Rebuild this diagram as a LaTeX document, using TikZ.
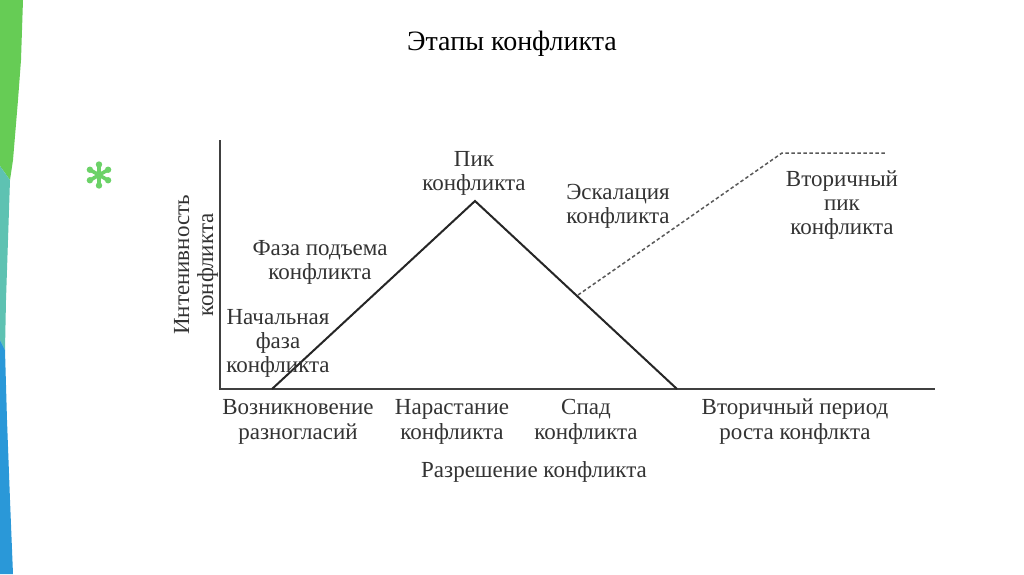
\documentclass[tikz,border=0pt]{standalone}
\usepackage{fontspec}
\setmainfont{Liberation Serif}
\definecolor{stripgreen}{HTML}{66CC55}
\definecolor{stripteal}{HTML}{5EC2B2}
\definecolor{stripblue}{HTML}{2A98D8}
\definecolor{astgreen}{HTML}{6CD268}
\definecolor{txt}{HTML}{333333}
\begin{document}
\begin{tikzpicture}[x=1pt,y=-1pt,
  lbl/.style={text=txt,align=center,inner sep=0pt,font=\fontsize{23}{24}\selectfont},
  blbl/.style={text=txt,align=center,inner sep=0pt,font=\fontsize{23}{25}\selectfont},
  axisline/.style={draw=black!75,line width=1.4pt},
  curve/.style={draw=black!85,line width=2pt},
  dashcurve/.style={draw=black!65,line width=1.5pt,dash pattern=on 3.5pt off 2.5pt}]
\useasboundingbox (0,0) rectangle (1024,574);
\fill[white] (0,0) rectangle (1024,574);
% left strips
\fill[stripgreen] (0,0) -- (23,0) -- (21,60) -- (18,100) -- (13,160) -- (10,180) -- (0,166) -- cycle;
\fill[stripteal] (0,166) -- (10,180) -- (8,240) -- (6,300) -- (5,350) -- (0,340) -- cycle;
\fill[stripblue] (0,340) -- (5,350) -- (7,420) -- (10,500) -- (13,574) -- (0,574) -- cycle;
% asterisk
\foreach \a in {90,150,210,270,330,30}{
  \draw[astgreen,line width=3.6pt,line cap=round] (99,175) -- ++(\a:10);
  \fill[astgreen] (99,175) ++(\a:10.5) circle[radius=3.2pt];
}
% title
\node[inner sep=0pt,font=\fontsize{28}{30}\selectfont] (title) at (512,44) {Этапы конфликта};
% axes
\coordinate (o) at (220,389);
\coordinate (ytop) at (220,140);
\coordinate (xend) at (935,389);
\draw[axisline] (ytop) -- (o) -- (xend);
% curve
\coordinate (s) at (272,389);
\coordinate (p) at (475,201);
\coordinate (e) at (677,389);
\draw[curve,line join=miter] (s) -- (p) -- (e);
\coordinate (d0) at (578,295);
\coordinate (d1) at (782,153);
\coordinate (d2) at (887,153);
\draw[dashcurve] (d0) -- (d1) -- (d2);
% labels
\node[lbl] (pik) at (474,173) {Пик\\конфликта};
\node[lbl] (faza) at (320,262) {Фаза подъема\\конфликта};
\node[lbl] (nach) at (278,343) {Начальная\\фаза\\конфликта};
\node[lbl] (esk) at (618,206) {Эскалация\\конфликта};
\node[lbl] (vtor) at (842,205) {Вторичный\\пик\\конфликта};
\node[lbl,rotate=90] (ylab) at (196,265) {Интенивность\\конфликта};
% bottom labels
\node[blbl] (b1) at (298,422) {Возникновение\\разногласий};
\node[blbl] (b2) at (452,422) {Нарастание\\конфликта};
\node[blbl] (b3) at (586,422) {Спад\\конфликта};
\node[blbl] (b4) at (795,422) {Вторичный период\\роста конфлкта};
\node[blbl] (b5) at (534,472) {Разрешение конфликта};
\end{tikzpicture}
\end{document}
